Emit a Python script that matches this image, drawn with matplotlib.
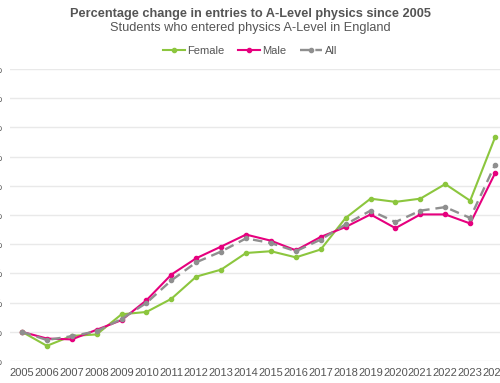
import matplotlib
matplotlib.use("Agg")
import matplotlib.pyplot as plt

plt.rcParams["font.family"] = ["Liberation Sans", "DejaVu Sans"]

years = list(range(2005, 2025))
female = [0, -4.8, -1.4, -0.9, 6.0, 6.8, 11.3, 18.9, 21.3, 27.0, 27.6, 25.5, 28.2,
          39.0, 45.6, 44.5, 45.6, 50.6, 44.9, 66.6]
male = [0, -2.3, -2.6, 0.7, 4.0, 10.8, 19.6, 25.2, 29.2, 33.3, 31.2, 27.9, 32.5,
        35.9, 40.2, 35.5, 40.2, 40.2, 37.1, 54.3]
all_students = [0, -2.8, -1.5, 0.2, 4.4, 9.9, 17.6, 23.8, 27.5, 32.0, 30.4, 27.6, 31.6,
                36.8, 41.5, 37.6, 41.5, 42.7, 39.0, 57.2]
y_ticks = list(range(-10, 100, 10))

GREEN = "#8cc63e"
PINK = "#e6007e"
GREY = "#8f8f8f"
TEXT = "#555555"

fig = plt.figure(figsize=(5.0, 3.83), dpi=100)
ax = fig.add_axes([0.019, 0.0574, 0.996, 0.7624])

ax.plot(years, female, color=GREEN, lw=1.5, marker="o", ms=3.0, label="Female", zorder=3)
ax.plot(years, male, color=PINK, lw=1.5, marker="o", ms=3.0, label="Male", zorder=4)
ax.plot(years, all_students, color=GREY, lw=1.7, ls=(0, (4, 2.5)), marker="o", ms=3.0,
        label="All", zorder=5)

ax.set_xlim(2004.5, 2024.5)
ax.set_ylim(-10, 90)
ax.set_xticks(years)
ax.set_xticklabels([str(y) for y in years], fontsize=8, color=TEXT)
ax.set_yticks(y_ticks)
ax.set_yticklabels([f"{v}%" for v in y_ticks], fontsize=8, color=TEXT)
ax.tick_params(length=0, pad=5)
ax.grid(axis="y", color="#e9e9e9", lw=1)
for s in ax.spines.values():
    s.set_visible(False)

fig.text(0.5, 0.963, "Percentage change in entries to A-Level physics since 2005",
         ha="center", va="center", fontsize=9.2, fontweight="bold", color=TEXT)
fig.text(0.5, 0.926, "Students who entered physics A-Level in England",
         ha="center", va="center", fontsize=9.2, color=TEXT)
fig.legend(loc="center", bbox_to_anchor=(0.5, 0.868), ncol=3, frameon=False,
           fontsize=8, handlelength=2.0, handletextpad=0.2, columnspacing=1.2,
           labelcolor=TEXT)

fig.savefig("out.png", dpi=100)
